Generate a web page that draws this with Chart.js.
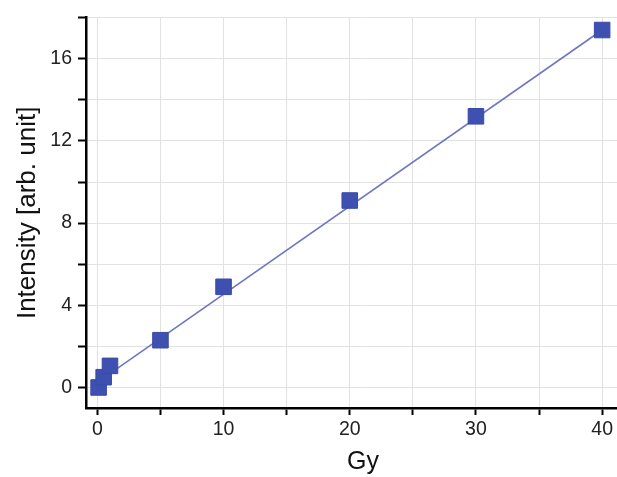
<!DOCTYPE html>
<html>
<head>
<meta charset="utf-8">
<title>Intensity vs dose</title>
<style>
    html, body {
        margin: 0;
        padding: 0;
        background: #ffffff;
        overflow: hidden;
    }
    #wrap {
        width: 660px;
        height: 477px;
    }
</style>
</head>
<body>
<div id="wrap">
    <canvas id="myChart"></canvas>
</div>

<script src="https://cdn.jsdelivr.net/npm/chart.js@4.4.0/dist/chart.umd.min.js"></script>
<script>
    // measured points (dose in Gy, intensity)
    const doseGy = [0.1, 0.5, 1, 5, 10, 20, 30, 40]
    const intensity = [0.0, 0.5, 1.05, 2.3, 4.9, 9.1, 13.2, 17.4]

    // linear fit, end points
    const fitX = [0, 40]
    const fitY = [0.25, 17.4]

    const xTicks = [0, 5, 10, 15, 20, 25, 30, 35, 40]
    const xLabels = [0, 10, 20, 30, 40]
    const yTicks = [0, 2, 4, 6, 8, 10, 12, 14, 16, 18]
    const yLabels = [0, 4, 8, 12, 16]

    const fontName = "'Liberation Sans', Arial, sans-serif"

    function toPoints(xs, ys) {
        let pts = []
        for (let i = 0; i < xs.length; i++) {
            pts.push({x: xs[i], y: ys[i]})
        }
        return pts
    }

    const ctx = document.getElementById('myChart').getContext('2d')
    const mychart = new Chart(ctx, {
        type: 'scatter',
        data: {
            datasets: [
                {
                    label: 'data',
                    data: toPoints(doseGy, intensity),
                    pointStyle: 'rect',
                    pointRadius: 11,
                    pointBackgroundColor: '#3f51b0',
                    pointBorderColor: '#3a4aa8',
                    pointBorderWidth: 1,
                    showLine: false
                },
                {
                    label: 'fit',
                    data: toPoints(fitX, fitY),
                    showLine: true,
                    borderColor: '#6f78bf',
                    borderWidth: 1.6,
                    pointRadius: 0
                }
            ]
        },
        options: {
            responsive: true,
            maintainAspectRatio: false,
            animation: false,
            layout: {
                padding: {top: 17, right: 20, bottom: 0, left: 0}
            },
            plugins: {
                legend: {display: false},
                tooltip: {enabled: false}
            },
            scales: {
                x: {
                    type: 'linear',
                    min: -0.9,
                    max: 43,
                    afterBuildTicks: function(axis) {
                        axis.ticks = xTicks.map(v => ({value: v}))
                    },
                    afterFit: function(scale) {
                        scale.height = 69
                    },
                    border: {color: '#000000', width: 2.5},
                    grid: {
                        color: '#e2e2e2',
                        lineWidth: 1,
                        tickColor: '#000000',
                        tickWidth: 2,
                        tickLength: 7
                    },
                    ticks: {
                        autoSkip: false,
                        maxRotation: 0,
                        padding: 3,
                        color: '#222222',
                        font: {family: fontName, size: 19.5},
                        callback: function(value) {
                            return xLabels.includes(value) ? String(value) : ''
                        }
                    },
                    title: {
                        display: true,
                        text: 'Gy',
                        color: '#111111',
                        font: {family: fontName, size: 25},
                        padding: {top: 0, bottom: 0}
                    }
                },
                y: {
                    type: 'linear',
                    min: -1,
                    max: 18,
                    afterBuildTicks: function(axis) {
                        axis.ticks = yTicks.map(v => ({value: v}))
                    },
                    afterFit: function(scale) {
                        scale.width = 86
                    },
                    border: {color: '#000000', width: 2.5},
                    grid: {
                        color: '#e2e2e2',
                        lineWidth: 1,
                        tickColor: '#000000',
                        tickWidth: 2,
                        tickLength: 8
                    },
                    ticks: {
                        autoSkip: false,
                        padding: 6,
                        color: '#222222',
                        font: {family: fontName, size: 19.5},
                        callback: function(value) {
                            return yLabels.includes(value) ? String(value) : ''
                        }
                    },
                    title: {
                        display: true,
                        text: 'Intensity [arb. unit]',
                        color: '#111111',
                        font: {family: fontName, size: 26},
                        padding: {top: 12, bottom: 0}
                    }
                }
            }
        }
    })
</script>
</body>
</html>
